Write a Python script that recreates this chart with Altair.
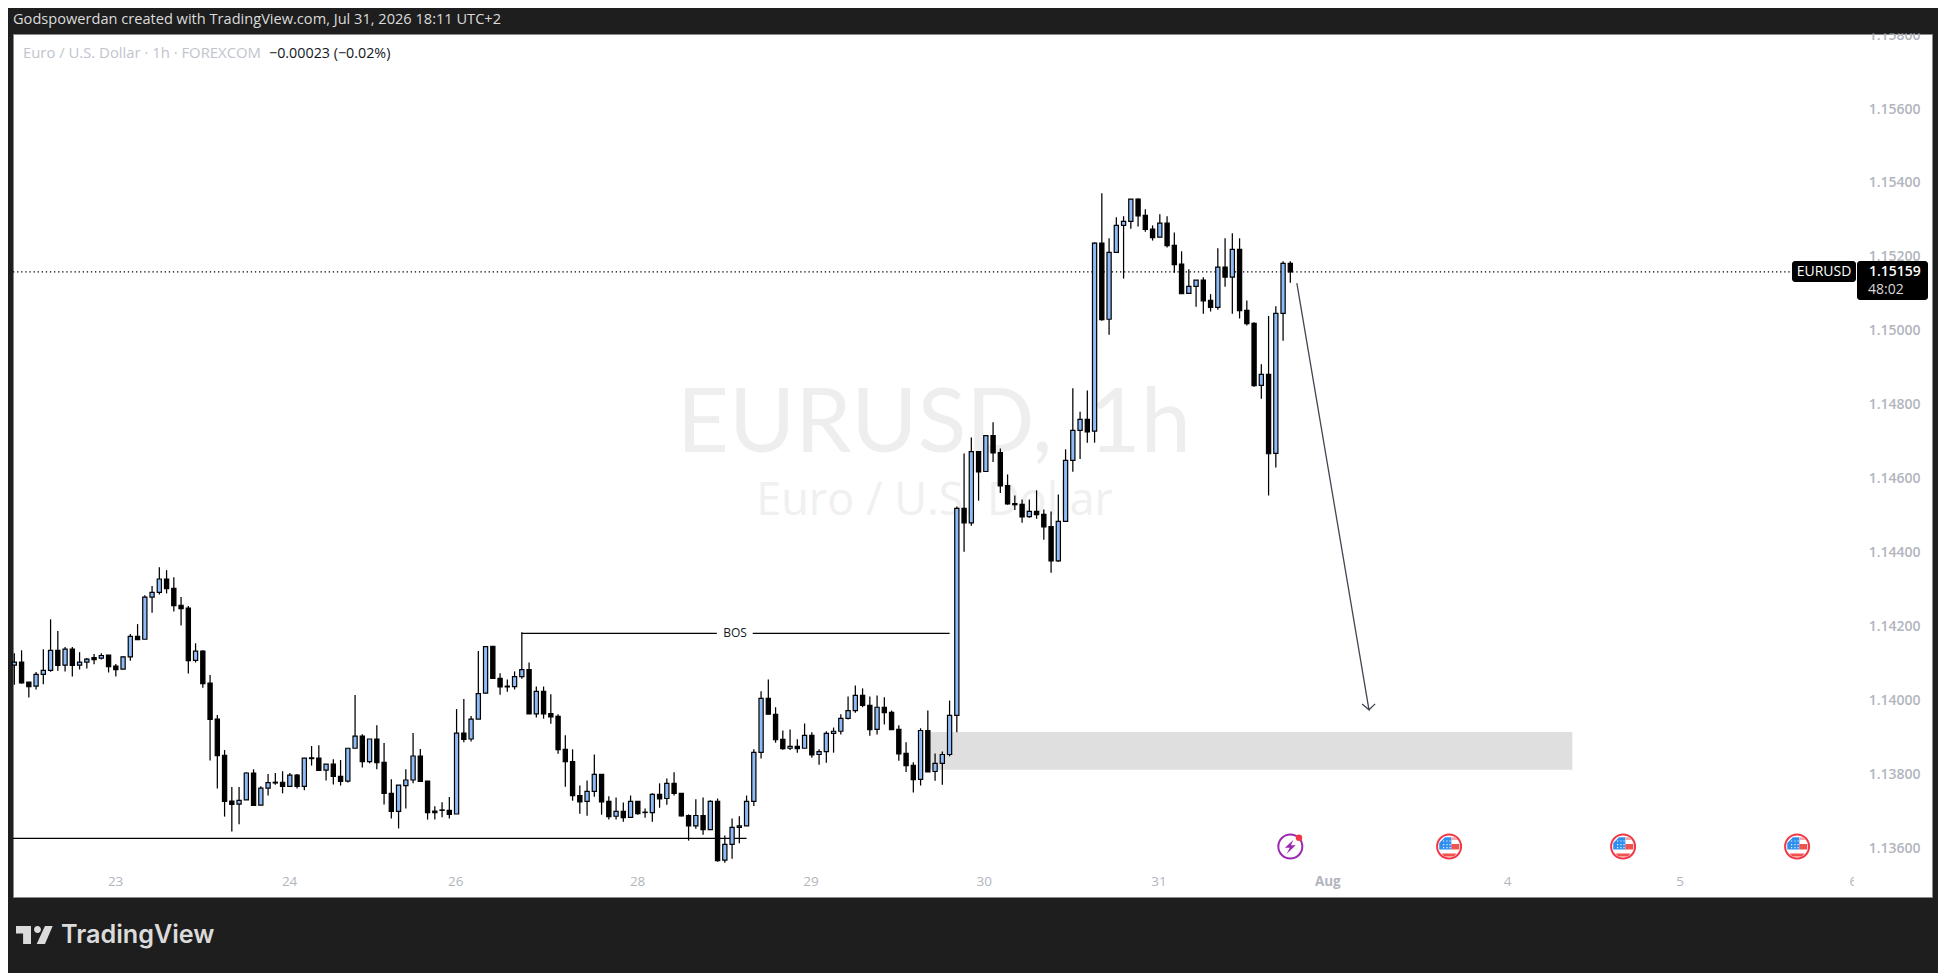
import altair as alt
import pandas as pd

opens = [1.14095,1.14103,1.14049,1.14038,1.14070,1.14081,1.14135,1.14095,1.14138,1.14095,
1.14103,1.14115,1.14114,1.14122,1.14092,1.14084,1.14117,1.14173,1.14165,1.14279,
1.14292,1.14328,1.14303,1.14257,1.14249,1.14108,1.14133,1.14046,1.13949,1.13851,
1.13727,1.13719,1.13730,1.13803,1.13716,1.13762,1.13778,1.13778,1.13767,1.13797,
1.13767,1.13844,1.13843,1.13811,1.13827,1.13794,1.13781,1.13870,1.13903,1.13834,
1.13895,1.13832,1.13748,1.13699,1.13769,1.13784,1.13849,1.13781,1.13700,1.13703,
1.13702,1.13692,1.13911,1.13895,1.13949,1.14019,1.14146,1.14059,1.14038,1.14037,
1.14064,1.14083,1.13963,1.14024,1.13964,1.13956,1.13867,1.13834,1.13742,1.13726,
1.13753,1.13799,1.13726,1.13686,1.13699,1.13683,1.13726,1.13697,1.13696,1.13745,
1.13734,1.13775,1.13748,1.13688,1.13660,1.13688,1.13650,1.13726,1.13567,1.13610,
1.13656,1.13660,1.13726,1.13859,1.14005,1.13962,1.13894,1.13870,1.13875,1.13870,
1.13905,1.13853,1.13861,1.13910,1.13916,1.13951,1.13972,1.14013,1.13986,1.13921,
1.13981,1.13967,1.13921,1.13856,1.13824,1.13786,1.13918,1.13807,1.13829,1.13853,
1.13959,1.14519,1.14480,1.14673,1.14619,1.14716,1.14670,1.14581,1.14532,1.14530,
1.14497,1.14511,1.14503,1.14470,1.14377,1.14484,1.14649,1.14730,1.14760,1.14728,
1.15237,1.15031,1.15212,1.15285,1.15296,1.15356,1.15312,1.15275,1.15253,1.15291,
1.15231,1.15180,1.15101,1.15120,1.15137,1.15082,1.15063,1.15172,1.15145,1.15220,
1.15055,1.15020,1.14852,1.14882,1.14668,1.15047,1.15182]

highs = [1.14127,1.14135,1.14049,1.14076,1.14138,1.14219,1.14187,1.14144,1.14144,1.14130,
1.14114,1.14125,1.14127,1.14122,1.14098,1.14119,1.14179,1.14206,1.14284,1.14309,
1.14360,1.14352,1.14333,1.14279,1.14255,1.14154,1.14135,1.14068,1.13960,1.13865,
1.13765,1.13765,1.13805,1.13813,1.13767,1.13800,1.13803,1.13808,1.13803,1.13800,
1.13843,1.13876,1.13878,1.13827,1.13840,1.13838,1.13870,1.14014,1.13908,1.13895,
1.13932,1.13884,1.13786,1.13770,1.13813,1.13911,1.13868,1.13781,1.13713,1.13724,
1.13738,1.13976,1.14003,1.13957,1.14133,1.14145,1.14146,1.14073,1.14056,1.14078,
1.14184,1.14102,1.14037,1.14037,1.14016,1.13962,1.13905,1.13867,1.13769,1.13783,
1.13853,1.13799,1.13740,1.13737,1.13723,1.13742,1.13726,1.13707,1.13748,1.13775,
1.13788,1.13805,1.13748,1.13691,1.13732,1.13737,1.13729,1.13734,1.13634,1.13680,
1.13686,1.13742,1.13867,1.14024,1.14056,1.13981,1.13918,1.13921,1.13894,1.13937,
1.13913,1.13867,1.13916,1.13926,1.13962,1.14010,1.14040,1.14032,1.14010,1.14013,
1.14008,1.13972,1.13932,1.13886,1.13832,1.13924,1.13972,1.13856,1.13861,1.13999,
1.14524,1.14668,1.14711,1.14673,1.14716,1.14752,1.14681,1.14611,1.14554,1.14543,
1.14543,1.14568,1.14516,1.14511,1.14557,1.14679,1.14844,1.14781,1.14838,1.15239,
1.15372,1.15250,1.15307,1.15310,1.15356,1.15358,1.15329,1.15285,1.15315,1.15310,
1.15266,1.15215,1.15166,1.15137,1.15145,1.15099,1.15223,1.15250,1.15264,1.15250,
1.15082,1.15023,1.14909,1.15040,1.15066,1.15188,1.15188]

lows = [1.14042,1.14045,1.14007,1.14029,1.14043,1.14077,1.14080,1.14078,1.14064,1.14083,
1.14086,1.14097,1.14110,1.14075,1.14064,1.14084,1.14107,1.14164,1.14165,1.14237,
1.14286,1.14289,1.14240,1.14202,1.14072,1.14102,1.14034,1.13837,1.13761,1.13685,
1.13645,1.13664,1.13730,1.13715,1.13716,1.13742,1.13771,1.13748,1.13767,1.13761,
1.13756,1.13823,1.13810,1.13783,1.13772,1.13769,1.13777,1.13870,1.13818,1.13829,
1.13813,1.13718,1.13680,1.13653,1.13707,1.13775,1.13780,1.13677,1.13677,1.13683,
1.13680,1.13692,1.13886,1.13888,1.13949,1.14019,1.14059,1.14015,1.14023,1.14029,
1.14058,1.13963,1.13953,1.13950,1.13936,1.13855,1.13766,1.13728,1.13693,1.13687,
1.13739,1.13690,1.13677,1.13677,1.13671,1.13683,1.13690,1.13682,1.13671,1.13709,
1.13717,1.13742,1.13685,1.13620,1.13652,1.13636,1.13650,1.13563,1.13560,1.13571,
1.13613,1.13660,1.13714,1.13842,1.13962,1.13885,1.13866,1.13865,1.13858,1.13870,
1.13844,1.13825,1.13831,1.13858,1.13907,1.13948,1.13966,1.13981,1.13904,1.13907,
1.13934,1.13920,1.13836,1.13806,1.13750,1.13769,1.13806,1.13782,1.13771,1.13848,
1.13913,1.14402,1.14472,1.14540,1.14619,1.14645,1.14561,1.14529,1.14515,1.14480,
1.14494,1.14491,1.14434,1.14345,1.14375,1.14484,1.14618,1.14653,1.14697,1.14697,
1.15027,1.14989,1.15212,1.15141,1.15276,1.15282,1.15268,1.15244,1.15253,1.15225,
1.15157,1.15100,1.15101,1.15065,1.15046,1.15052,1.15057,1.15119,1.15046,1.15033,
1.15014,1.14848,1.14816,1.14554,1.14630,1.14973,1.15130]

closes = [1.14103,1.14047,1.14037,1.14070,1.14081,1.14135,1.14094,1.14138,1.14094,1.14103,
1.14111,1.14110,1.14121,1.14091,1.14083,1.14117,1.14173,1.14164,1.14279,1.14292,
1.14328,1.14302,1.14256,1.14248,1.14107,1.14133,1.14045,1.13948,1.13850,1.13726,
1.13718,1.13729,1.13803,1.13715,1.13762,1.13777,1.13776,1.13767,1.13797,1.13767,
1.13843,1.13842,1.13810,1.13827,1.13794,1.13780,1.13870,1.13903,1.13834,1.13895,
1.13831,1.13748,1.13699,1.13770,1.13784,1.13849,1.13780,1.13696,1.13696,1.13702,
1.13691,1.13911,1.13894,1.13949,1.14018,1.14145,1.14059,1.14036,1.14036,1.14064,
1.14083,1.13963,1.14024,1.13963,1.13955,1.13866,1.13834,1.13742,1.13725,1.13753,
1.13799,1.13725,1.13685,1.13699,1.13682,1.13726,1.13693,1.13696,1.13745,1.13733,
1.13775,1.13748,1.13687,1.13660,1.13688,1.13650,1.13726,1.13566,1.13610,1.13656,
1.13660,1.13726,1.13859,1.14005,1.13962,1.13893,1.13869,1.13875,1.13869,1.13905,
1.13852,1.13861,1.13910,1.13916,1.13951,1.13972,1.14013,1.13986,1.13920,1.13981,
1.13966,1.13920,1.13855,1.13823,1.13785,1.13918,1.13806,1.13829,1.13853,1.13959,
1.14519,1.14480,1.14673,1.14618,1.14716,1.14669,1.14580,1.14531,1.14529,1.14496,
1.14511,1.14502,1.14469,1.14377,1.14484,1.14649,1.14730,1.14760,1.14726,1.15237,
1.15030,1.15212,1.15285,1.15296,1.15356,1.15311,1.15274,1.15252,1.15291,1.15230,
1.15179,1.15100,1.15120,1.15137,1.15081,1.15063,1.15172,1.15145,1.15220,1.15054,
1.15019,1.14851,1.14882,1.14667,1.15047,1.15182,1.15159]

price_ticks = [1.136,1.138,1.14,1.142,1.144,1.146,1.148,1.15,1.152,1.154,1.156,1.158]
time_ticks = [13.9,37.9,60.8,85.9,109.8,133.7,157.8,181.1,205.9,229.7,253.6]
time_labels = ["23","24","26","28","29","30","31","Aug","4","5","6"]

last_price = 1.15159
support = [{"x":-0.2,"x2":101.0,"y":1.13626}]
bos_parts = [{"x":70.0,"x2":96.9,"y":1.14181},{"x":101.85,"x2":129.0,"y":1.14181}]
bos_label = [{"x":99.4,"y":1.14181,"t":"BOS"}]
zone = [{"x":126.3,"x2":214.9,"y":1.13914,"y2":1.13812}]
arrow_idx = [176.9,186.85,185.9,186.85,187.7]
arrow_px = [1.15129,1.13974,1.13990,1.13974,1.13990]
flag_idx = [197.9,221.9,245.9]
bolt_idx = [176.0]

FONT = "Open Sans"
X_DOM = [-0.183, 264.507]
Y_DOM = [1.134674, 1.15803]
W, H = 1919, 863

label_map = ",".join(f"'{a}':'{b}'" for a, b in zip(time_ticks, time_labels))
x_axis = alt.Axis(values=time_ticks, title=None, domain=False, ticks=False, grid=False,
                  labelExpr="{" + label_map + "}['' + datum.value]",
                  labelPadding=-16, labelBaseline="middle", labelAlign="center",
                  labelColor="#b2b5be", labelFont=FONT, labelFontSize=13.5,
                  labelFlush=False, labelBound=False, labelOverlap=False,
                  labelFontWeight={"condition": {"test": "datum.value == 181.1", "value": "bold"}, "value": "normal"})
y_axis = alt.Axis(values=price_ticks, title=None, orient="right", domain=False, ticks=False, grid=False,
                  format=".5f", labelPadding=-12, labelAlign="right", labelBaseline="middle",
                  labelColor="#b2b5be", labelFont=FONT, labelFontSize=14, labelFontWeight=600,
                  labelBound=False, labelFlush=False, labelOverlap=False)
xs = alt.Scale(domain=X_DOM, nice=False, zero=False, padding=0)
ys = alt.Scale(domain=Y_DOM, nice=False, zero=False, padding=0)

def X(f): return alt.X(f, type="quantitative", scale=xs, axis=x_axis)
def Y(f): return alt.Y(f, type="quantitative", scale=ys, axis=y_axis)

one = pd.DataFrame([{"a": 0}])

def txt(s, x, y, size, color, align="left", weight="normal", font=FONT, baseline="middle"):
    return alt.Chart(one).mark_text(text=s, align=align, baseline=baseline, fontSize=size,
                                    color=color, fontWeight=weight, font=font).encode(
        x=alt.value(x), y=alt.value(y))

def box(x, x2, y, y2, color, radius=0):
    return alt.Chart(one).mark_rect(fill=color, cornerRadius=radius).encode(
        x=alt.value(x), x2=alt.value(x2), y=alt.value(y), y2=alt.value(y2))

def seg(rows, color="#000000", w=1.2, dash=None):
    kw = {"strokeDash": dash} if dash else {}
    return alt.Chart(pd.DataFrame(rows)).mark_rule(color=color, strokeWidth=w, **kw).encode(
        x=X("x"), x2="x2", y=Y("y"))

df = pd.DataFrame({"i": list(range(len(opens))), "open": opens, "high": highs, "low": lows, "close": closes})
df["top"] = df[["open", "close"]].max(axis=1)
df["bot"] = df[["open", "close"]].min(axis=1)

wicks = alt.Chart(df).mark_rule(color="#000000", strokeWidth=1.25).encode(x=X("i"), y=Y("low"), y2="high")
bodies = alt.Chart(df).mark_bar(size=4.2, stroke="#000000", strokeWidth=1.2).encode(
    x=X("i"), y=Y("bot"), y2="top",
    fill=alt.condition("datum.close > datum.open", alt.value("#8fbcf6"), alt.value("#000000")))

zone_l = alt.Chart(pd.DataFrame(zone)).mark_rect(fill="#dfdfdf").encode(x=X("x"), x2="x2", y=Y("y"), y2="y2")
last_line = seg([{"x": X_DOM[0], "x2": 245.2, "y": last_price}], w=1.2, dash=[1.3, 2.8])
support_l = seg(support, w=1.1)
bos = seg(bos_parts, w=1.1)
bos_t = alt.Chart(pd.DataFrame(bos_label)).mark_text(font=FONT, fontSize=12, color="#131722", baseline="middle").encode(
    x=X("x"), y=Y("y"), text="t:N")
arrow = alt.Chart(pd.DataFrame({"x": arrow_idx, "y": arrow_px, "o": list(range(5))})).mark_line(
    color="#434651", strokeWidth=1.3).encode(x=X("x"), y=Y("y"), order="o:Q")

# flag and bolt glyphs, in unit squares
CANTON = "M-0.35,-0.78 L0.19,-0.78 L0.19,0.25 L-0.82,0.25 L-0.82,-0.3 Z"
STRIPES = "M0.19,-0.2 L0.85,-0.2 L0.85,0.25 L0.19,0.25 Z M-0.62,0.58 L0.62,0.58 L0.4,0.83 L-0.4,0.83 Z"
STRIPE_TOP = "M0.19,-0.78 L0.5,-0.78 L0.7,-0.55 L0.19,-0.55 Z"
STARS = "".join(f"M{a},{b} h0.09 v0.09 h-0.09 Z " for a in (-0.5, -0.22, 0.03) for b in (-0.5, -0.2, 0.05))
BOLT = "M0.25,-0.55 L-0.45,0.1 L-0.05,0.1 L-0.3,0.6 L0.45,-0.1 L0.05,-0.1 Z"
flags_df = pd.DataFrame({"x": flag_idx})
bolt_df = pd.DataFrame({"x": bolt_idx})
ICON_Y = 812.5

def glyph(data, shape, fill, size=576, stroke=None, sw=0, y=ICON_Y):
    kw = {"stroke": stroke, "strokeWidth": sw} if stroke else {"strokeWidth": 0}
    return alt.Chart(data).mark_point(shape=shape, filled=True, fill=fill, size=size, opacity=1, **kw).encode(
        x=X("x"), y=alt.value(y))

flag_layers = [
    glyph(flags_df, "circle", "#ffffff", stroke="#f23645", sw=2),
    glyph(flags_df, CANTON, "#2f8fee"),
    glyph(flags_df, STRIPES, "#ef5350"),
    glyph(flags_df, STRIPE_TOP, "#f7a7a5"),
    glyph(flags_df, STARS, "#ffffff"),
]
bolt_layers = [
    glyph(bolt_df, "circle", "#ffffff", stroke="#9c27b0", sw=2),
    glyph(bolt_df, BOLT, "#9c27b0"),
    alt.Chart(pd.DataFrame({"x": [177.2]})).mark_point(shape="circle", filled=True, fill="#f23645", size=42, opacity=1, strokeWidth=0).encode(
        x=X("x"), y=alt.value(803.7)),
]

LOGO = ("M-0.974,-0.474 L-0.184,-0.474 L-0.184,0.474 L-0.6,0.474 L-0.6,-0.08 L-0.974,-0.08 Z "
        "M0.342,-0.289 A0.184,0.184 0 1,1 -0.026,-0.289 A0.184,0.184 0 1,1 0.342,-0.289 Z "
        "M0.55,-0.474 L0.958,-0.474 L0.55,0.474 L0.115,0.474 Z")
logo = alt.Chart(one).mark_point(shape=LOGO, filled=True, fill="#dbdbdb", size=1444, opacity=1, strokeWidth=0).encode(
    x=alt.value(21.5), y=alt.value(901))

layers = [
    # watermark
    txt("EURUSD", 664, 418, 90, "#eeeeee", font="Lato", baseline="alphabetic"),
    txt(",", 1019, 418, 90, "#eeeeee", font="Lato", baseline="alphabetic"),
    txt("1h", 1178, 418, 90, "#eeeeee", align="right", font="Lato", baseline="alphabetic"),
    txt("Euro / U.S. Dollar", 921.5, 481, 45, "#f0f0f0", align="center", baseline="alphabetic"),
    zone_l, last_line, support_l, bos, bos_t,
    wicks, bodies, arrow,
    *bolt_layers, *flag_layers,
    # time label clipped by the price column
    box(1841, 1918, 838, 854, "#ffffff"),
    # frame above the pane hides the top half of the top label
    box(-5, 1925, -26, -0.5, "#1e1e1e"),
    txt("Godspowerdan created with TradingView.com, Jul 31, 2026 18:11 UTC+2", 0, -14, 14.6, "#dbdbdb"),
    txt("Euro / U.S. Dollar · 1h · FOREXCOM", 10, 20, 14.85, "#c1c4cd"),
    txt("−0.00023 (−0.02%)", 256, 20, 14.3, "#131722"),
    # last price tags
    box(1779, 1843, 227, 248, "#000000", 3),
    box(1844, 1915, 227, 266, "#000000", 3),
    txt("EURUSD", 1811, 238, 14, "#ffffff", align="center"),
    txt("1.15159", 1856, 238, 14, "#ffffff", weight=600),
    txt("48:02", 1855, 256, 14, "#d8d8d8"),
    # brand
    logo,
    txt("TradingView", 48, 901, 25.2, "#dbdbdb", weight=600, font="Inter"),
]

chart = alt.layer(*layers).resolve_scale(x="shared", y="shared").properties(
    width=W, height=H,
    autosize=alt.AutoSizeParams(type="none"),
    padding={"left": 5, "top": 26, "right": 6, "bottom": 76},
    background="#1e1e1e",
).configure_view(fill="#ffffff", stroke="#8a8a8a", strokeWidth=1)

chart.save("out.html", embed_options={"renderer": "svg", "actions": False})
